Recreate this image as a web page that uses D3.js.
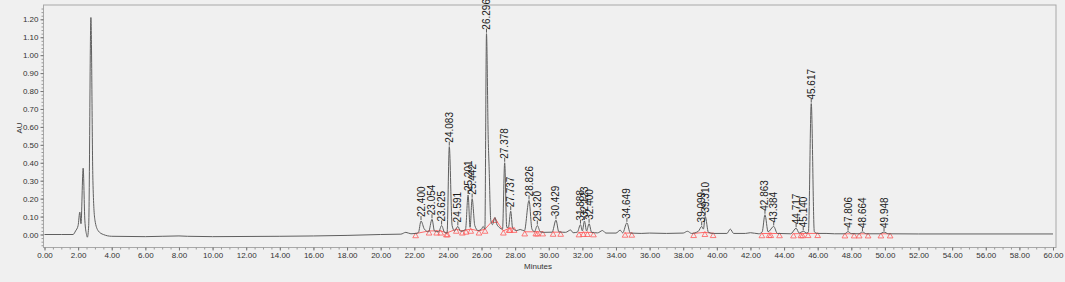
<!DOCTYPE html>
<html>
<head>
<meta charset="utf-8">
<script src="https://cdn.jsdelivr.net/npm/d3@7"></script>
<style>
  body { margin: 0; background: #f0f0f0; }
  svg { display: block; }
</style>
</head>
<body>
<svg id="chart" width="1065" height="282"></svg>
<script>
// chromatogram trace, [minutes, AU]
let trace = [
  [0, 0.0], [1.0, 0.0], [1.7, 0.0], [1.85, 0.02], [2.0, 0.05], [2.1, 0.125], [2.17, 0.06],
  [2.3, 0.37], [2.4, 0.08], [2.5, 0.0], [2.55, -0.015], [2.63, 0.05], [2.76, 1.21],
  [2.88, 0.3], [3.0, 0.08], [3.2, 0.02], [3.5, 0.0], [4.0, -0.01], [6.0, -0.012],
  [8.0, -0.008], [8.5, -0.01], [10, -0.012], [14, -0.01], [18, -0.005], [20, 0.0],
  [21.2, 0.002], [21.5, 0.012], [21.8, 0.004], [22.1, 0.006],
  [22.25, 0.012], [22.4, 0.075], [22.6, 0.03], [22.85, 0.015],
  [23.054, 0.085], [23.2, 0.02], [23.45, 0.015],
  [23.625, 0.05], [23.8, 0.012], [23.95, 0.008],
  [24.083, 0.49], [24.25, 0.05], [24.4, 0.02],
  [24.591, 0.045], [24.75, 0.018], [24.95, 0.022], [25.05, 0.03],
  [25.201, 0.22], [25.32, 0.04], [25.442, 0.2], [25.6, 0.05], [25.8, 0.022],
  [26.0, 0.03], [26.1, 0.045], [26.2, 0.03],
  [26.296, 1.12], [26.4, 0.53], [26.45, 0.38], [26.55, 0.08], [26.65, 0.055],
  [26.8, 0.095], [26.9, 0.06], [27.05, 0.04], [27.25, 0.03],
  [27.378, 0.4], [27.5, 0.04], [27.6, 0.04], [27.737, 0.13], [27.85, 0.035],
  [28.1, 0.022], [28.3, 0.028], [28.55, 0.02],
  [28.826, 0.19], [29.0, 0.03], [29.15, 0.016],
  [29.32, 0.05], [29.5, 0.015], [29.7, 0.012], [30.2, 0.013],
  [30.429, 0.08], [30.6, 0.015], [31.0, 0.012], [31.3, 0.025], [31.45, 0.01], [31.7, 0.013],
  [31.888, 0.055], [32.0, 0.02], [32.123, 0.075], [32.25, 0.02], [32.4, 0.06], [32.55, 0.012],
  [32.9, 0.009], [33.2, 0.022], [33.4, 0.008], [34.0, 0.008], [34.25, 0.024], [34.4, 0.009],
  [34.649, 0.065], [34.85, 0.008], [35.5, 0.006], [36.0, 0.008], [37.0, 0.006],
  [38.0, 0.008], [38.25, 0.018], [38.5, 0.006], [38.9, 0.018],
  [39.099, 0.045], [39.2, 0.03], [39.31, 0.1], [39.5, 0.012], [39.8, 0.006],
  [40.6, 0.006], [40.8, 0.03], [41.0, 0.006], [41.7, 0.006], [42.0, 0.01], [42.5, 0.004],
  [42.7, 0.015], [42.863, 0.11], [43.05, 0.015], [43.384, 0.045], [43.6, 0.006],
  [44.4, 0.004], [44.717, 0.035], [44.9, 0.008], [45.14, 0.018], [45.35, 0.008],
  [45.45, 0.015], [45.617, 0.73], [45.8, 0.015], [46.0, 0.006], [46.5, 0.006],
  [47.0, 0.004], [47.6, 0.004], [47.806, 0.016], [48.0, 0.005],
  [48.45, 0.004], [48.664, 0.014], [48.9, 0.004],
  [49.7, 0.004], [49.948, 0.014], [50.2, 0.004], [52, 0.003], [60, 0.003]
];

// labelled peaks
let peakTimes = [22.400, 23.054, 23.625, 24.083, 24.591, 25.201, 25.442, 26.296, 27.378,
  27.737, 28.826, 29.320, 30.429, 31.888, 32.123, 32.400, 34.649, 39.099, 39.310,
  42.863, 43.384, 44.717, 45.140, 45.617, 47.806, 48.664, 49.948];
let peakHeights = [0.075, 0.085, 0.05, 0.49, 0.045, 0.22, 0.2, 1.12, 0.4,
  0.13, 0.19, 0.05, 0.08, 0.055, 0.075, 0.06, 0.065, 0.045, 0.1,
  0.11, 0.045, 0.035, 0.018, 0.73, 0.016, 0.014, 0.014];

// integration baseline markers, grouped into runs [minutes, AU]
let markerRuns = [
  [[22.08, 0.005], [22.88, 0.02], [23.33, 0.02], [23.57, 0.02], [23.91, 0.01], [23.97, 0.01],
   [24.5, 0.03], [24.86, 0.02], [25.08, 0.025], [25.36, 0.03], [25.85, 0.02], [26.21, 0.03],
   [26.79, 0.09], [27.3, 0.02], [27.64, 0.035], [27.7, 0.035], [27.94, 0.035]],
  [[28.57, 0.015], [29.23, 0.015], [29.33, 0.015], [29.64, 0.015]],
  [[30.26, 0.013], [30.71, 0.013]],
  [[31.8, 0.01], [32.06, 0.012], [32.3, 0.012], [32.66, 0.01]],
  [[34.54, 0.008], [34.94, 0.008]],
  [[38.62, 0.006], [39.29, 0.012], [39.78, 0.006]],
  [[42.68, 0.005], [43.11, 0.006], [43.21, 0.006], [43.73, 0.005]],
  [[44.56, 0.004], [45.0, 0.005], [45.1, 0.005], [45.43, 0.006], [46.0, 0.006]],
  [[47.62, 0.004], [48.17, 0.004]],
  [[48.47, 0.004], [49.0, 0.004]],
  [[49.76, 0.004], [50.31, 0.004]]
];

let xTicks = d3.range(0, 60.01, 2);
let yTicks = [0, 0.1, 0.2, 0.3, 0.4, 0.5, 0.6, 0.7, 0.8, 0.9, 1.0, 1.1, 1.2];

let svg = d3.select("#chart");
let fontFamily = "Liberation Sans, Arial, sans-serif";
let frameLeft = 43.5, frameRight = 1056, frameTop = 5, frameBottom = 247.5;

let x = d3.scaleLinear().domain([0, 60]).range([44.5, 1053]);
let y = d3.scaleLinear().domain([0, 1.2]).range([234.5, 19.3]);

svg.append("rect")
  .attr("width", 1065).attr("height", 282)
  .attr("fill", "#f0f0f0");

// plot frame
svg.append("rect")
  .attr("x", frameLeft).attr("y", frameTop)
  .attr("width", frameRight - frameLeft).attr("height", frameBottom - frameTop)
  .attr("fill", "#f0f0f0")
  .attr("stroke", "#a8a8a8")
  .attr("stroke-width", 1);

// minor ticks
svg.append("g")
  .attr("transform", "translate(0," + frameBottom + ")")
  .call(d3.axisBottom(x).tickValues(d3.range(0, 60.01, 0.5)).tickSize(2).tickFormat(""))
  .call(g => g.select(".domain").remove())
  .call(g => g.selectAll("line").attr("stroke", "#999"));
svg.append("g")
  .attr("transform", "translate(" + frameLeft + ",0)")
  .call(d3.axisLeft(y).tickValues(d3.range(-0.06, 1.27, 0.02)).tickSize(2).tickFormat(""))
  .call(g => g.select(".domain").remove())
  .call(g => g.selectAll("line").attr("stroke", "#999"));

// major axes
let xAxis = svg.append("g")
  .attr("transform", "translate(0," + frameBottom + ")")
  .call(d3.axisBottom(x).tickValues(xTicks).tickSize(3).tickPadding(1.5).tickFormat(d3.format(".2f")));
let yAxis = svg.append("g")
  .attr("transform", "translate(" + frameLeft + ",0)")
  .call(d3.axisLeft(y).tickValues(yTicks).tickSize(3).tickPadding(2).tickFormat(d3.format(".2f")));

[xAxis, yAxis].forEach(g => {
  g.select(".domain").remove();
  g.selectAll("line").attr("stroke", "#777");
  g.selectAll("text")
    .style("font-family", fontFamily)
    .style("font-size", "8px")
    .attr("fill", "#333");
});

// axis titles
svg.append("text")
  .attr("transform", "translate(22,128) rotate(-90)")
  .attr("text-anchor", "middle")
  .text("AU")
  .style("font-family", fontFamily)
  .style("font-size", "8px")
  .attr("fill", "#333");
svg.append("text")
  .attr("x", 538)
  .attr("y", 269)
  .attr("text-anchor", "middle")
  .text("Minutes")
  .style("font-family", fontFamily)
  .style("font-size", "8px")
  .attr("fill", "#333");

// red integration baselines and markers
let markerLine = d3.line().x(d => x(d[0])).y(d => y(d[1]));
svg.selectAll(".baseline")
  .data(markerRuns)
  .enter().append("path")
  .attr("class", "baseline")
  .attr("d", markerLine)
  .attr("fill", "none")
  .attr("stroke", "#ff6a6a")
  .attr("stroke-width", 1);

let markers = markerRuns.flat();
svg.selectAll(".marker")
  .data(markers)
  .enter().append("path")
  .attr("class", "marker")
  .attr("d", d3.symbol().type(d3.symbolTriangle).size(14))
  .attr("transform", d => "translate(" + x(d[0]) + "," + (y(d[1]) + 2.5) + ")")
  .attr("fill", "none")
  .attr("stroke", "#ff5a5a")
  .attr("stroke-width", 0.8);

// trace
let line = d3.line()
  .x(d => x(d[0]))
  .y(d => y(d[1]))
  .curve(d3.curveMonotoneX);

svg.append("path")
  .datum(trace)
  .attr("d", line)
  .attr("fill", "none")
  .attr("stroke", "#5f5f5f")
  .attr("stroke-width", 1);

// peak labels
let peaks = peakTimes.map((t, i) => ({ t: t, h: peakHeights[i] }));
svg.selectAll(".peak_tick")
  .data(peaks)
  .enter().append("line")
  .attr("class", "peak_tick")
  .attr("x1", d => x(d.t)).attr("x2", d => x(d.t))
  .attr("y1", d => y(d.h) - 1).attr("y2", d => y(d.h) - 5)
  .attr("stroke", "#333")
  .attr("stroke-width", 0.8);

svg.selectAll(".peak_label")
  .data(peaks)
  .enter().append("text")
  .attr("class", "peak_label")
  .attr("transform", d => "translate(" + (x(d.t) + 3.5) + "," + (y(d.h) - 4) + ") rotate(-90)")
  .text(d => d3.format(".3f")(d.t))
  .style("font-family", fontFamily)
  .style("font-size", "10px")
  .attr("fill", "#1a1a1a");
</script>
</body>
</html>
